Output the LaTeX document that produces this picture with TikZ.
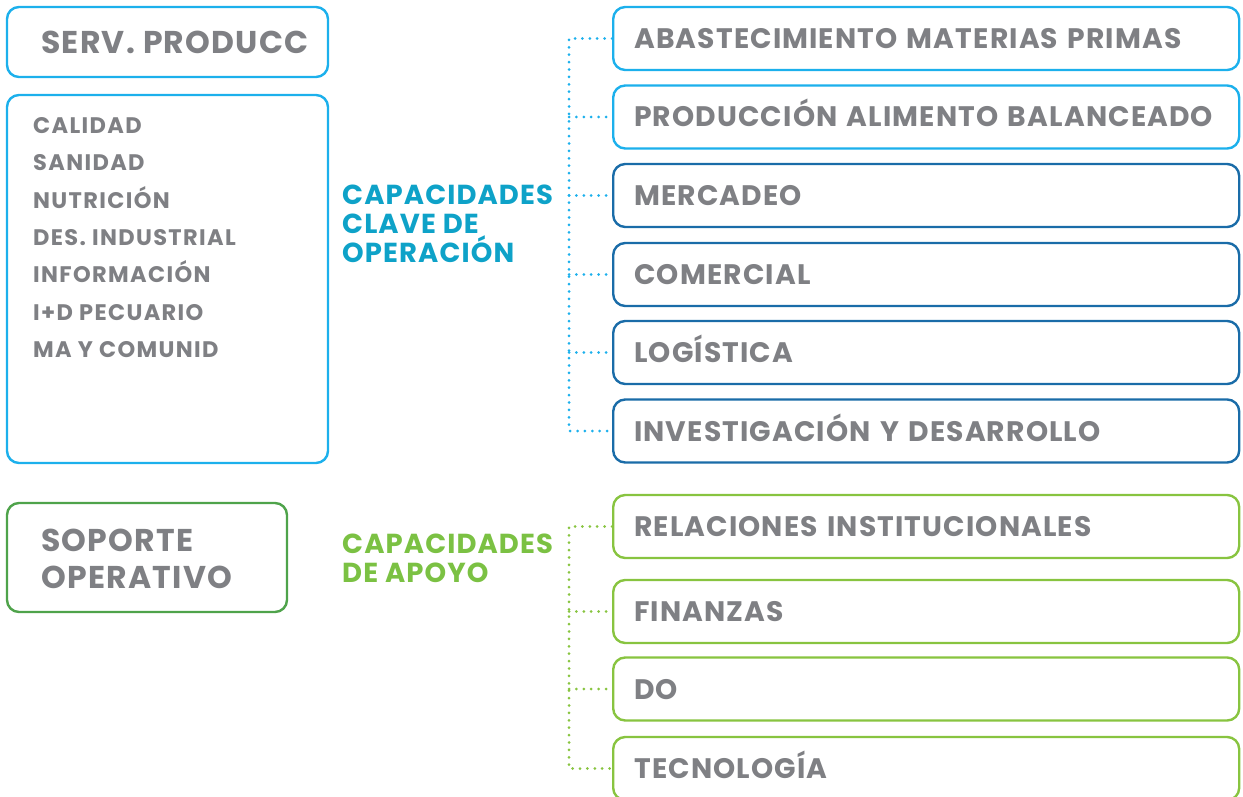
\documentclass[tikz,border=0pt]{standalone}
\usepackage{fontspec}
\setmainfont{Poppins}[LetterSpace=4]
\usetikzlibrary{positioning,calc}
\definecolor{CapLightBlue}{HTML}{1CB0EC}
\definecolor{CapDarkBlue}{HTML}{1A6CA8}
\definecolor{CapLightGreen}{HTML}{88C440}
\definecolor{CapDarkGreen}{HTML}{4FA34B}
\definecolor{CapGrey}{HTML}{7F8084}
\definecolor{CapTeal}{HTML}{0EA2C8}
\definecolor{CapLeaf}{HTML}{7BC143}
\tikzset{
    % Base rounded box
    basebox/.style={
        draw,
        fill=white,
        line width=2.4pt,
        rounded corners=12pt,
        inner sep=0pt
    },
    % Capability box (right column)
    capbox/.style={
        basebox,
        minimum width=626pt,
        minimum height=63pt,
        text width=584pt,
        inner xsep=21pt,
        align=left,
        text=CapGrey,
        text height=20pt,
        text depth=0pt,
        font=\fontsize{28.2}{30}\selectfont\bfseries
    },
    % Grey text
    greytext/.style={
        text=CapGrey,
        inner sep=0pt,
        align=left,
        font=\fontsize{31.5}{37}\selectfont\bfseries
    },
    % List item
    listtext/.style={
        greytext,
        font=\fontsize{22.5}{24}\selectfont\bfseries\addfontfeature{LetterSpace=6}
    },
    % Group label
    grouplabel/.style={
        inner sep=0pt,
        align=left,
        font=\fontsize{27.5}{29}\selectfont\bfseries
    },
    % Dotted connector
    dotline/.style={
        line width=3pt,
        line cap=round,
        dash pattern=on 0pt off 7.4pt
    }
}
\begin{document}
\begin{tikzpicture}[x=1pt,y=-1pt]
    \clip (0,0) rectangle (1243,797);

    % Production service
    \node[basebox, draw=CapLightBlue, minimum width=321pt, minimum height=70pt] (serv) at (167.5,42) {};
    \node[greytext, anchor=west] (servt) at (41,42) {SERV. PRODUCC};
    \node[basebox, draw=CapLightBlue, minimum width=321pt, minimum height=368pt] (list) at (167.5,279) {};
    \foreach \t [count=\i] in {CALIDAD, SANIDAD, NUTRICIÓN, DES. INDUSTRIAL, INFORMACIÓN, I+D PECUARIO, MA Y COMUNID}
        \node[listtext, anchor=base west] (l\i) at ($(33,133.5)+(0,{37.3*(\i-1)})$) {\t};

    % Operative support
    \node[basebox, draw=CapDarkGreen, minimum width=280pt, minimum height=109pt] (sop) at (147,557.5) {};
    \node[greytext, anchor=west] (sopt) at (41,558.5) {SOPORTE\\OPERATIVO};

    % Group labels
    \node[grouplabel, text=CapTeal, anchor=west] (gop) at (342,224) {CAPACIDADES\\CLAVE DE\\OPERACIÓN};
    \node[grouplabel, text=CapLeaf, anchor=west] (gap) at (342,558) {CAPACIDADES\\DE APOYO};

    % Key operation capabilities
    \node[capbox, draw=CapLightBlue, anchor=west] (op1) at (612,38.5) {ABASTECIMIENTO MATERIAS PRIMAS};
    \node[capbox, draw=CapLightBlue, anchor=west] (op2) at (612,117) {PRODUCCIÓN ALIMENTO BALANCEADO};
    \node[capbox, draw=CapDarkBlue, anchor=west] (op3) at (612,195.5) {MERCADEO};
    \node[capbox, draw=CapDarkBlue, anchor=west] (op4) at (612,274.5) {COMERCIAL};
    \node[capbox, draw=CapDarkBlue, anchor=west] (op5) at (612,352.5) {LOGÍSTICA};
    \node[capbox, draw=CapDarkBlue, anchor=west] (op6) at (612,431) {INVESTIGACIÓN Y DESARROLLO};

    % Support capabilities
    \node[capbox, draw=CapLightGreen, anchor=west] (ap1) at (612,526.5) {RELACIONES INSTITUCIONALES};
    \node[capbox, draw=CapLightGreen, anchor=west] (ap2) at (612,611.5) {FINANZAS};
    \node[capbox, draw=CapLightGreen, anchor=west] (ap3) at (612,689) {DO};
    \node[capbox, draw=CapLightGreen, anchor=west] (ap4) at (612,768.5) {TECNOLOGÍA};

    % Dotted brackets
    \coordinate (trunk) at (569,0);
    \draw[dotline, CapLightBlue] (op1.west) -- (op1.west -| trunk) -- (op6.west -| trunk) -- (op6.west);
    \foreach \n in {op2,op3,op4,op5}
        \draw[dotline, CapLightBlue] (\n.west -| trunk) -- (\n.west);
    \draw[dotline, CapLightGreen] (ap1.west) -- (ap1.west -| trunk) -- (ap4.west -| trunk) -- (ap4.west);
    \foreach \n in {ap2,ap3}
        \draw[dotline, CapLightGreen] (\n.west -| trunk) -- (\n.west);
\end{tikzpicture}
\end{document}
